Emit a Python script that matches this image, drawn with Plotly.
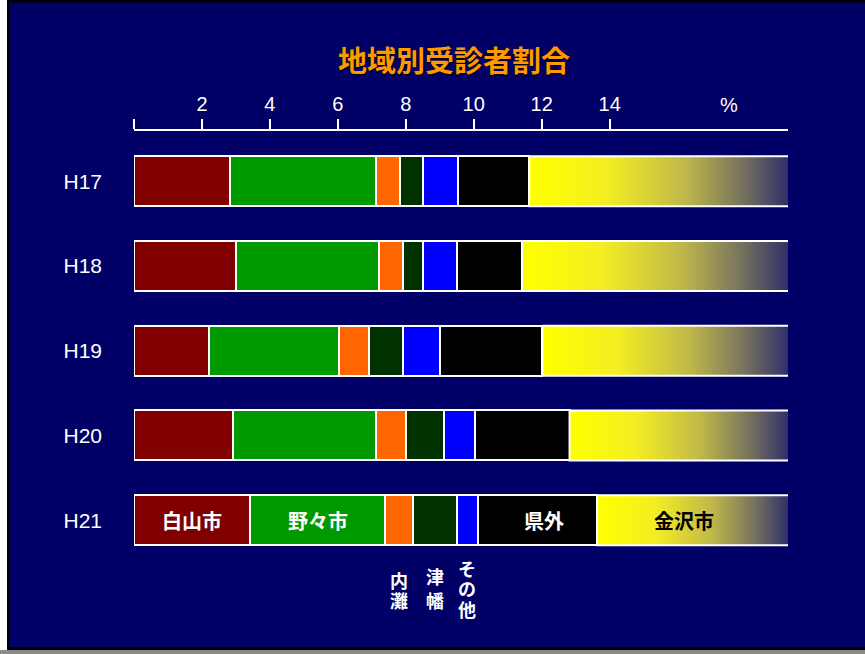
import plotly.graph_objects as go

# ---------------- data ----------------
years = ["H17", "H18", "H19", "H20", "H21"]
hakusan = [2.82, 3.01, 2.21, 2.91, 3.41]
nonoichi = [4.30, 4.21, 3.82, 4.20, 3.99]
uchinada = [0.70, 0.69, 0.88, 0.90, 0.82]
tsubata = [0.69, 0.61, 1.00, 1.11, 1.29]
sonota = [1.02, 1.00, 1.11, 0.91, 0.61]
kengai = [2.10, 1.90, 3.00, 2.79, 3.51]
kanazawa = [88.37, 88.58, 87.98, 87.18, 86.37]
x_ticks = [0, 2, 4, 6, 8, 10, 12, 14]
x_ticktext = ["", "2", "4", "6", "8", "10", "12", "14"]

series = [
    ("白山市", hakusan, "#800000"),
    ("野々市", nonoichi, "#009900"),
    ("内灘", uchinada, "#FF6600"),
    ("津幡", tsubata, "#003300"),
    ("その他", sonota, "#0000FF"),
    ("県外", kengai, "#000000"),
]

# ---------------- layout geometry ----------------
W, H = 865, 654
ML, MR, MT, MB = 134, 77, 131, 83
PW, PH = W - ML - MR, H - MT - MB
XMAX = 19.25
YR = [4.6, -0.594]
BW = 0.59
BG = "#000066"
JP = "Noto Sans CJK JP"
LAT = "Liberation Sans, Arial"
GRAD = [[0, "#FFFF00"], [0.3, "#F4EE22"], [0.6, "#C0B84A"],
        [0.82, "#78745E"], [1, "#30306A"]]


def pxx(p):
    return (p - ML) / PW


def pxy(p):
    return 1 - (p - MT) / PH


yidx = list(range(len(years)))

fig = go.Figure()
for name, vals, col in series:
    fig.add_trace(go.Bar(
        y=yidx, x=vals, name=name, orientation="h", width=BW,
        marker=dict(color=col, line=dict(color="white", width=2)),
        showlegend=False, hoverinfo="x+name",
    ))

# 金沢市 segment with gradient fill
starts = []
for i in yidx:
    s = sum(v[i] for _, v, _ in series)
    starts.append(s)
    e = s + kanazawa[i]
    fig.add_trace(go.Scatter(
        x=[s, e, e, s, s],
        y=[i - BW / 2, i - BW / 2, i + BW / 2, i + BW / 2, i - BW / 2],
        mode="lines", fill="toself",
        line=dict(color="white", width=2),
        fillgradient=dict(type="horizontal", colorscale=GRAD,
                          start=s, stop=XMAX),
        showlegend=False, hoverinfo="skip",
    ))

annotations = []
# labels inside H21 bar
last = len(years) - 1
cum = 0
centers = []
for name, vals, col in series:
    centers.append(cum + vals[last] / 2)
    cum += vals[last]
inside = [
    ("白山市", centers[0], "white"),
    ("野々市", centers[1], "white"),
    ("県外", centers[5] + 0.2, "white"),
    ("金沢市", (starts[last] + XMAX) / 2 - 0.25, "black"),
]
for txt, xc, col in inside:
    annotations.append(dict(
        x=xc, y=last, xref="x", yref="y", text="<b>" + txt + "</b>",
        showarrow=False, font=dict(family=JP, size=20, color=col),
        xanchor="center", yanchor="middle",
    ))

# vertical labels below H21 bar
vert = [
    ("内灘", centers[2], [580, 600]),
    ("津幡", centers[3], [576, 600]),
    ("その他", centers[4], [568, 588, 609]),
]
for txt, xc, ys in vert:
    for ch, yp in zip(txt, ys):
        annotations.append(dict(
            x=xc, y=pxy(yp), xref="x", yref="paper", text="<b>" + ch + "</b>",
            showarrow=False, font=dict(family=JP, size=18, color="white"),
            xanchor="center", yanchor="middle", borderpad=0,
        ))

# % label
annotations.append(dict(
    x=17.5, y=pxy(105), xref="x", yref="paper", text="%",
    showarrow=False, font=dict(family=LAT, size=20, color="white"),
    xanchor="center", yanchor="middle",
))

# frame shapes
shapes = [
    dict(type="rect", xref="paper", yref="paper", x0=pxx(0), x1=pxx(7),
         y0=pxy(0), y1=pxy(H), fillcolor="white", line_width=0),
    dict(type="rect", xref="paper", yref="paper", x0=pxx(7), x1=pxx(9.5),
         y0=pxy(0), y1=pxy(H), fillcolor="black", line_width=0),
    dict(type="rect", xref="paper", yref="paper", x0=pxx(7), x1=pxx(W),
         y0=pxy(0), y1=pxy(2.5), fillcolor="black", line_width=0),
    dict(type="rect", xref="paper", yref="paper", x0=pxx(7), x1=pxx(W),
         y0=pxy(647), y1=pxy(650), fillcolor="black", line_width=0),
    dict(type="rect", xref="paper", yref="paper", x0=pxx(0), x1=pxx(W),
         y0=pxy(650), y1=pxy(H), fillcolor="#8a8a8a", line_width=0),
]

fig.update_layout(
    width=W, height=H,
    margin=dict(l=ML, r=MR, t=MT, b=MB, pad=0),
    paper_bgcolor=BG, plot_bgcolor=BG,
    barmode="stack", bargap=0,
    title=dict(
        text="<b>地域別受診者割合</b>",
        font=dict(family=JP, size=29, color="#FF9900",
                  shadow="1px 1px 1px #000000"),
        x=pxx(454), xref="paper", xanchor="center",
        y=1 - 62 / H, yref="container", yanchor="middle",
    ),
    xaxis=dict(
        side="top", range=[0, XMAX], showgrid=False, zeroline=False,
        showline=True, linecolor="white", linewidth=2,
        ticks="outside", ticklen=10, tickwidth=2, tickcolor="white",
        tickvals=x_ticks, ticktext=x_ticktext,
        tickfont=dict(family=LAT, size=20, color="white"),
        fixedrange=True,
    ),
    yaxis=dict(
        range=YR, showgrid=False, zeroline=False, showline=False,
        tickvals=yidx, ticktext=years, ticks="",
        tickfont=dict(family=LAT, size=21, color="white"),
        ticklabelstandoff=31, fixedrange=True,
    ),
    annotations=annotations,
    shapes=shapes,
)

fig.write_html("out.html")
